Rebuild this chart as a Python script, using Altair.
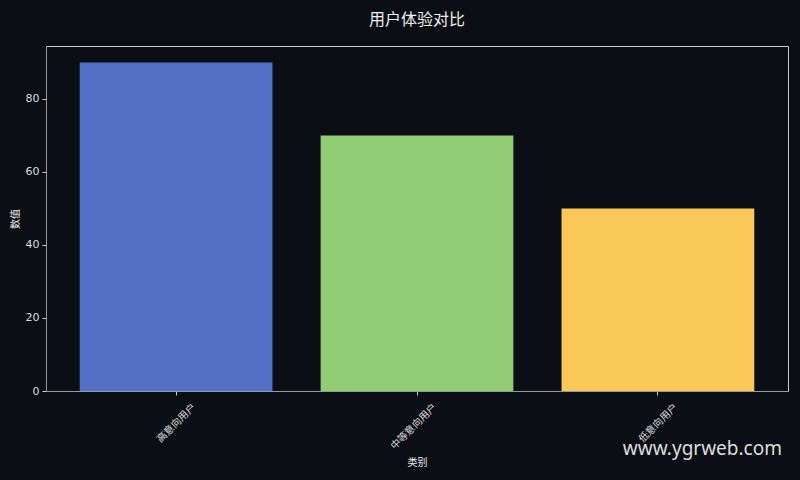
import altair as alt
import pandas as pd

categories = ["高意向用户", "中等意向用户", "低意向用户"]
values = [90, 70, 50]
colors = ["#5470c6", "#91cc75", "#fac858"]
y_ticks = [0, 20, 40, 60, 80]

BG = "#0b0e14"
FONT = "Noto Sans CJK SC"

# make the page itself the same dark colour as the chart background
try:
    import altair.utils.html as _h

    _orig = _h.TEMPLATES["standard"]

    class _DarkPage:
        def render(self, **kw):
            out = _orig.render(**kw)
            style = "<style>html,body{background:%s;margin:0;overflow:hidden;}</style>" % BG
            if "<head>" in out:
                return out.replace("<head>", "<head>\n" + style, 1)
            return style + out

    _h.TEMPLATES["standard"] = _DarkPage()
except Exception:
    pass

df = pd.DataFrame({"类别": categories, "数值": values, "color": colors})

bars = alt.Chart(df).mark_bar().encode(
    x=alt.X(
        "类别:N",
        sort=categories,
        scale=alt.Scale(paddingInner=0.2, paddingOuter=0.14),
        axis=alt.Axis(
            title="类别",
            labelAngle=315,
            labelAlign="right",
            labelBaseline="middle",
            labelFontSize=10,
            labelColor="#dddddd",
            labelFont=FONT,
            labelPadding=10,
            labelOffset=18,
            tickSize=4,
            tickColor="#cccccc",
            domainColor="#999999",
            titleFont=FONT,
            titleFontSize=10,
            titleFontWeight="normal",
            titleColor="#eeeeee",
            titleBaseline="middle",
            titleY=71,
        ),
    ),
    y=alt.Y(
        "数值:Q",
        scale=alt.Scale(domain=[0, 94.5], nice=False),
        axis=alt.Axis(
            title="数值",
            values=y_ticks,
            grid=False,
            labelFontSize=11,
            labelColor="#dddddd",
            labelFont="DejaVu Sans",
            labelPadding=3,
            tickSize=4,
            tickColor="#cccccc",
            domainColor="#999999",
            titleFont=FONT,
            titleFontSize=10,
            titleFontWeight="normal",
            titleColor="#eeeeee",
            titleBaseline="middle",
            titleAlign="center",
            titleX=-31,
            titleY=172.5,
        ),
    ),
    color=alt.Color("color:N", scale=None, legend=None),
)

wm = alt.Chart(pd.DataFrame({"t": ["www.ygrweb.com"]})).mark_text(
    align="right", baseline="alphabetic", fontSize=19, font="Noto Sans", color="#dddddd"
).encode(text="t:N", x=alt.value(736), y=alt.value(409))

chart = alt.layer(bars, wm).properties(
    width=742,
    height=345,
    title=alt.TitleParams(
        "用户体验对比", font=FONT, fontSize=16, fontWeight="normal", color="#eeeeee", offset=18
    ),
    background=BG,
    padding={"left": 46, "top": 46, "right": 12, "bottom": 85},
    autosize=alt.AutoSizeParams(type="none"),
).configure_view(stroke="#cccccc", strokeWidth=1)

chart.save("out.html", embed_options={"renderer": "svg", "actions": False})
